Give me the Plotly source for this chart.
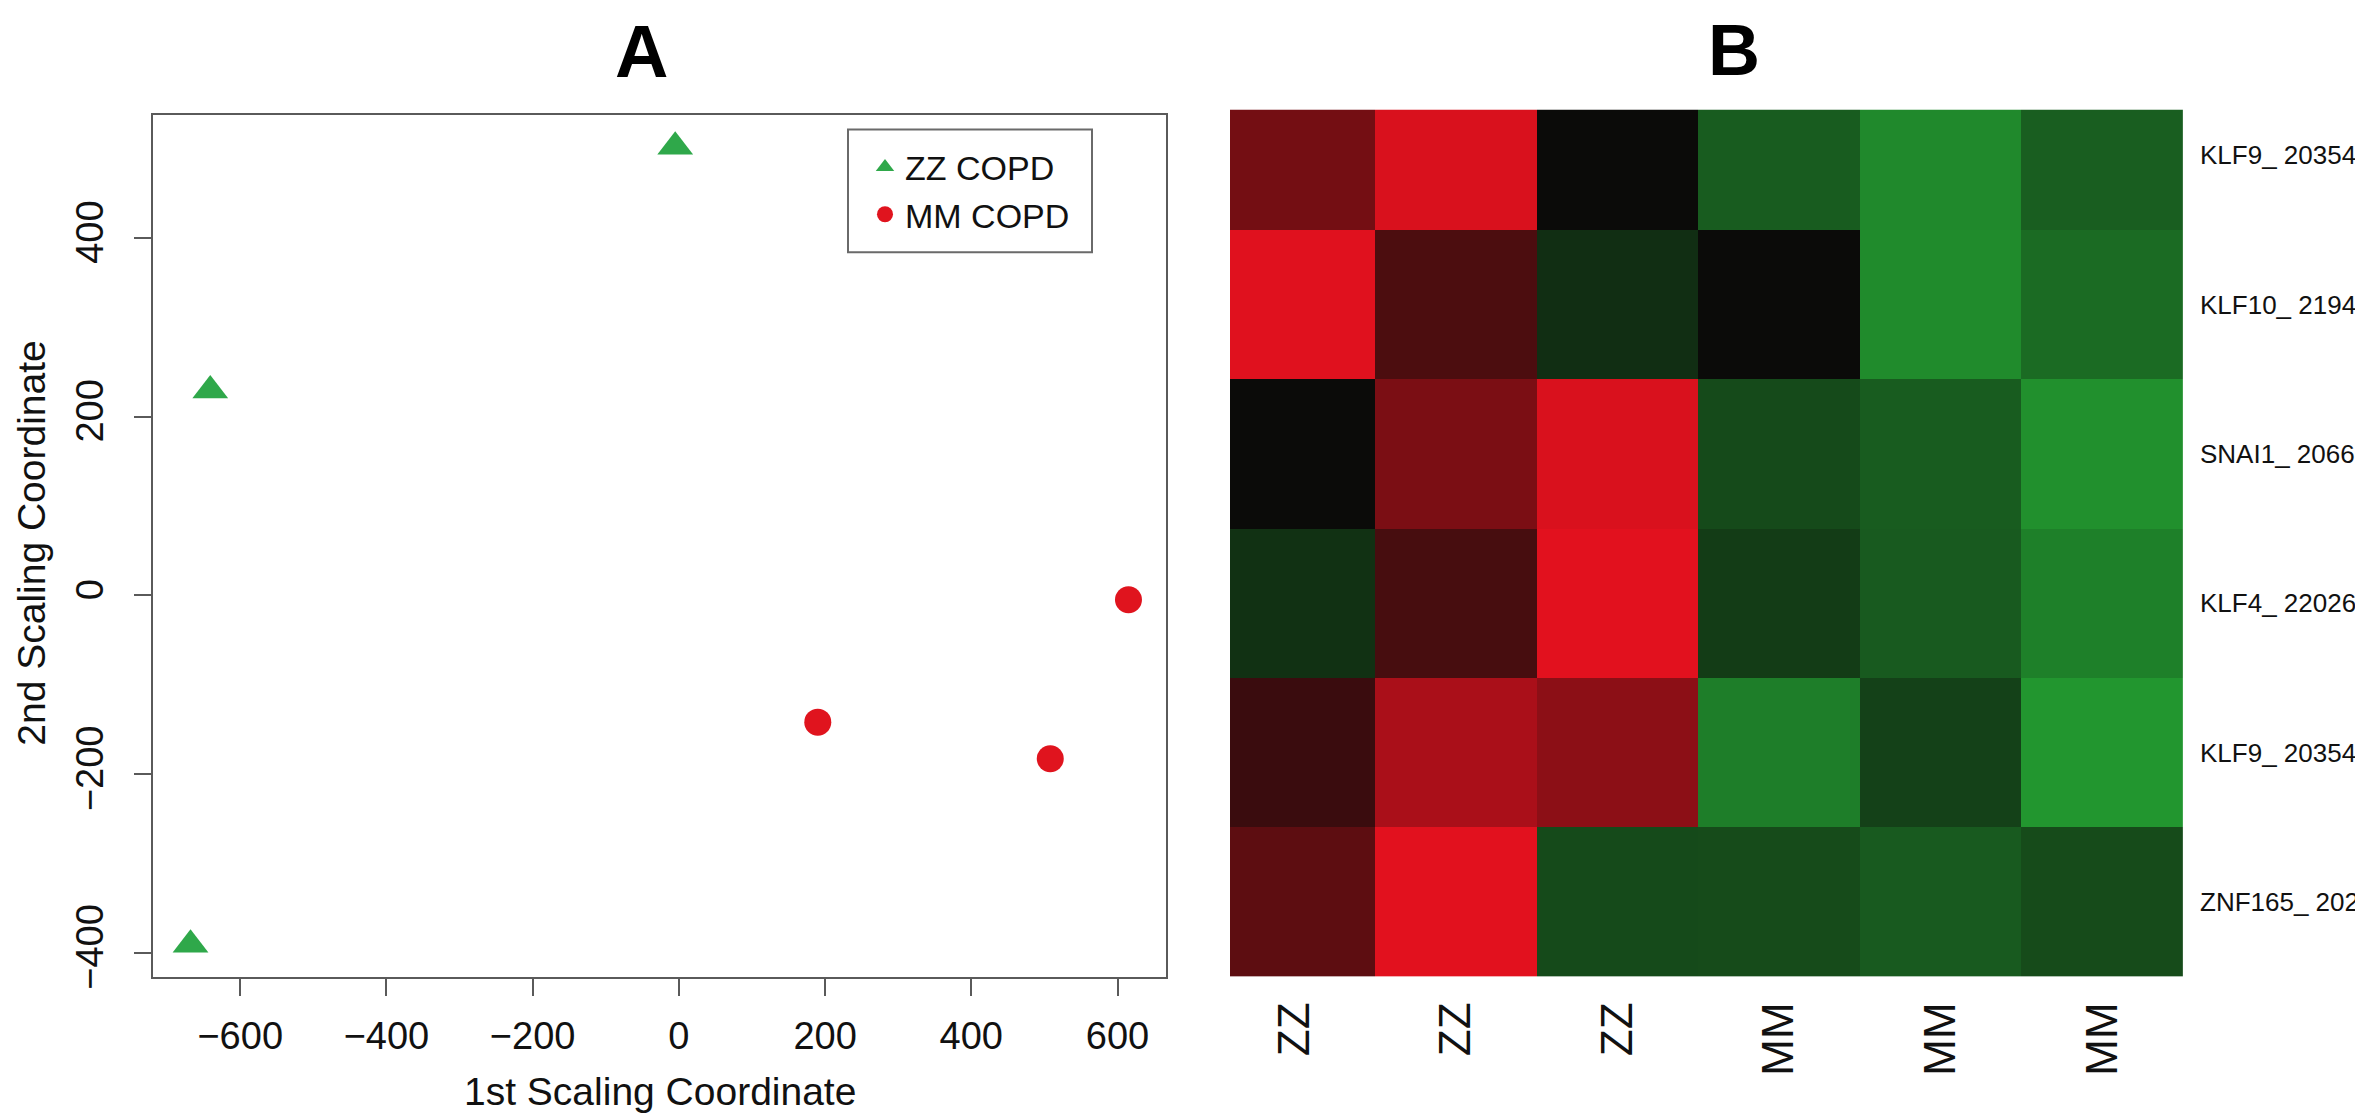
import plotly.graph_objects as go

W, H = 2363, 1117

# ---- Panel A data (MDS coordinates) ----
zz_x = [-5, -641, -668]
zz_y = [502, 229, -391]
mm_x = [190, 508, 615]
mm_y = [-142, -183, -5]

x_ticks = [-600, -400, -200, 0, 200, 400, 600]
y_ticks = [-400, -200, 0, 200, 400]

# ---- Panel B data (heatmap) ----
samples = ["ZZ", "ZZ", "ZZ", "MM", "MM", "MM"]
genes = ["KLF9_ 20354", "KLF10_ 2194", "SNAI1_ 2066", "KLF4_ 22026", "KLF9_ 20354", "ZNF165_ 202"]
row_klf9a = [0.49, 0.96, 0.00, -0.58, -0.91, -0.60]
row_klf10 = [0.99, 0.30, -0.25, 0.00, -0.92, -0.69]
row_snai1 = [0.00, 0.52, 0.96, -0.45, -0.58, -0.96]
row_klf4 = [-0.27, 0.28, 1.00, -0.35, -0.57, -0.84]
row_klf9b = [0.22, 0.74, 0.60, -0.83, -0.39, -1.00]
row_znf165 = [0.38, 1.00, -0.45, -0.46, -0.57, -0.46]
expr = [row_klf9a, row_klf10, row_snai1, row_klf4, row_klf9b, row_znf165]

FONT = "Liberation Sans, Arial, sans-serif"
AXC = "#5a5a5a"

def px_x(p):
    return p / W

def px_y(p):
    return 1 - p / H

# R-style 4% axis extension
allx = zz_x + mm_x
ally = zz_y + mm_y
padx = 0.04 * (max(allx) - min(allx))
pady = 0.04 * (max(ally) - min(ally))
xr = [min(allx) - padx, max(allx) + padx]
yr = [min(ally) - pady, max(ally) + pady]

fig = go.Figure()

fig.add_trace(go.Scatter(
    x=zz_x, y=zz_y, mode="markers", name="ZZ COPD",
    marker=dict(symbol="triangle-up", size=31, color="#2fa84a", line=dict(width=0)),
    xaxis="x", yaxis="y"))
fig.add_trace(go.Scatter(
    x=mm_x, y=mm_y, mode="markers", name="MM COPD",
    marker=dict(symbol="circle", size=27, color="#e0141e", line=dict(width=0)),
    xaxis="x", yaxis="y"))

fig.add_trace(go.Heatmap(
    z=expr, x=list(range(len(samples))), y=list(range(len(genes))),
    zmin=-1, zmax=1,
    colorscale=[[0, "#22962f"], [0.5, "#0b0b09"], [1, "#e2111e"]],
    showscale=False, xaxis="x2", yaxis="y2", hoverinfo="z"))

axis_common = dict(showgrid=False, zeroline=False, showline=True, linecolor=AXC,
                   linewidth=2, mirror=True, ticks="outside", ticklen=17,
                   tickwidth=2, tickcolor=AXC,
                   tickfont=dict(family=FONT, size=38, color="#111"))

fig.update_layout(
    width=W, height=H,
    margin=dict(l=0, r=0, t=0, b=0),
    paper_bgcolor="white", plot_bgcolor="white",
    font=dict(family=FONT, color="#111"),
    showlegend=True,
    legend=dict(x=px_x(857), y=px_y(132), xanchor="left", yanchor="top",
                bgcolor="rgba(0,0,0,0)", borderwidth=0,
                font=dict(family=FONT, size=34, color="#111"),
                itemsizing="trace", tracegroupgap=0),
    xaxis=dict(domain=[px_x(145), px_x(1158)], range=xr, tickvals=x_ticks,
               ticklabelstandoff=8, anchor="y", **axis_common),
    yaxis=dict(domain=[px_y(980), px_y(108)], range=yr, tickvals=y_ticks,
               tickangle=-90, ticklabelstandoff=16, anchor="x", **axis_common),
    xaxis2=dict(domain=[px_x(1222), px_x(2175)], range=[-0.40, 5.5], anchor="y2",
                tickvals=list(range(len(samples))), ticktext=samples, tickangle=-90,
                showgrid=False, zeroline=False, showline=False, ticks="",
                ticklabelstandoff=16,
                tickfont=dict(family=FONT, size=44, color="#111")),
    yaxis2=dict(domain=[px_y(980), px_y(103)], range=[5.5, -0.305], anchor="x2",
                side="right", tickvals=list(range(len(genes))), ticktext=genes,
                showgrid=False, zeroline=False, showline=False, ticks="",
                ticklabelstandoff=16,
                tickfont=dict(family=FONT, size=26, color="#111")),
    shapes=[dict(type="rect", xref="paper", yref="paper",
                 x0=px_x(840), x1=px_x(1084), y0=px_y(247), y1=px_y(123),
                 line=dict(color="#6a6a6a", width=2), fillcolor="rgba(0,0,0,0)")],
    annotations=[
        dict(text="<b>A</b>", x=px_x(633), y=1, xref="paper", yref="paper",
             xanchor="center", yanchor="top", showarrow=False,
             font=dict(family=FONT, size=74, color="#000")),
        dict(text="<b>B</b>", x=px_x(1726), y=1, xref="paper", yref="paper",
             xanchor="center", yanchor="top", showarrow=False,
             font=dict(family=FONT, size=72, color="#000")),
        dict(text="1st Scaling Coordinate", x=px_x(652), y=px_y(1096), xref="paper",
             yref="paper", xanchor="center", yanchor="middle", showarrow=False,
             font=dict(family=FONT, size=39, color="#111")),
        dict(text="2nd Scaling Coordinate", x=px_x(24), y=px_y(542), xref="paper",
             yref="paper", xanchor="center", yanchor="middle", showarrow=False,
             textangle=-90, font=dict(family=FONT, size=39, color="#111")),
    ],
)

fig.write_html("out.html")
